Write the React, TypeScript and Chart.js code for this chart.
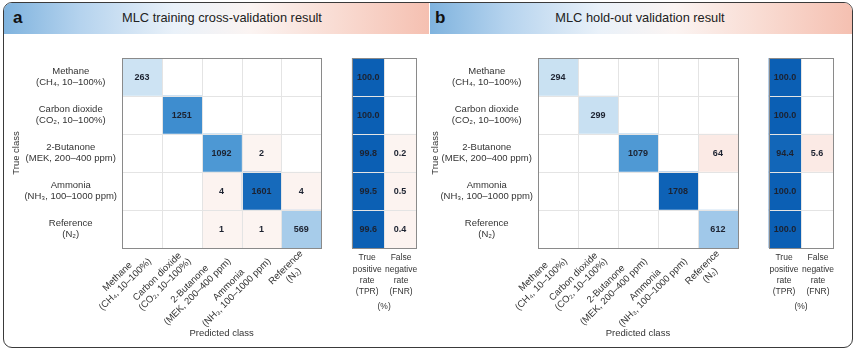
import React, { useEffect, useRef } from 'react';
import { Chart, registerables } from 'chart.js';

Chart.register(...registerables);

const FONT = '"Liberation Sans", Arial, Helvetica, sans-serif';

// ---------- data ----------
const CLASS_LABELS: string[][] = [
  ['Methane', '(CH\u2084, 10\u2013100%)'],
  ['Carbon dioxide', '(CO\u2082, 10\u2013100%)'],
  ['2-Butanone', '(MEK, 200\u2013400 ppm)'],
  ['Ammonia', '(NH\u2083, 100\u20131000 ppm)'],
  ['Reference', '(N\u2082)'],
];

const TRAIN_COUNTS: number[][] = [
  [263, 0, 0, 0, 0],
  [0, 1251, 0, 0, 0],
  [0, 0, 1092, 2, 0],
  [0, 0, 4, 1601, 4],
  [0, 0, 1, 1, 569],
];
const TRAIN_TPR: number[] = [100.0, 100.0, 99.8, 99.5, 99.6];
const TRAIN_FNR: number[] = [0, 0, 0.2, 0.5, 0.4];

const HOLDOUT_COUNTS: number[][] = [
  [294, 0, 0, 0, 0],
  [0, 299, 0, 0, 0],
  [0, 0, 1079, 0, 64],
  [0, 0, 0, 1708, 0],
  [0, 0, 0, 0, 612],
];
const HOLDOUT_TPR: number[] = [100.0, 100.0, 94.4, 100.0, 100.0];
const HOLDOUT_FNR: number[] = [0, 0, 5.6, 0, 0];

const RATE_LABELS: string[][] = [
  ['True', 'positive', 'rate', '(TPR)'],
  ['False', 'negative', 'rate', '(FNR)'],
];
const RATE_UNIT = '(%)';
const PANEL_LETTERS = ['a', 'b'];
const PANEL_TITLES = ['MLC training cross-validation result', 'MLC hold-out validation result'];
const Y_TITLE = 'True class';
const X_TITLE = 'Predicted class';

// ---------- layout / style ----------
const PANELS = [
  { left: 4, width: 424, yAxisWidth: 118, padRight: 12, titlePad: 7, titleCenter: 222, letterLeft: 9 },
  { left: 430, width: 422, yAxisWidth: 108, padRight: 19, titlePad: 0, titleCenter: 640, letterLeft: 5 },
];
const CANVAS_TOP = 35;
const CANVAS_HEIGHT = 310;
const PAD_TOP = 23;
const PAD_BOTTOM = 97;
const GAP_UNITS = 0.78;
const RATE_UNITS = 0.8;
const TEXT_COLOR = '#333333';

const BLUE_STOPS: [number, string][] = [
  [0.0, '#eef5fb'],
  [0.15, '#cde3f3'],
  [0.33, '#a6cbea'],
  [0.62, '#4e98d4'],
  [0.72, '#3d8ccf'],
  [0.92, '#1569ba'],
  [1.0, '#0b5fb4'],
];
const PINK_STOPS: [number, string][] = [
  [0.0, '#fcf4f1'],
  [1.0, '#f9dcd2'],
];

function hexToRgb(h: string) {
  const n = parseInt(h.slice(1), 16);
  return [(n >> 16) & 255, (n >> 8) & 255, n & 255];
}
function interp(stops: [number, string][], t: number) {
  t = Math.max(0, Math.min(1, t));
  for (let i = 1; i < stops.length; i++) {
    if (t <= stops[i][0]) {
      const [t0, c0] = stops[i - 1];
      const [t1, c1] = stops[i];
      const f = (t - t0) / (t1 - t0 || 1);
      const a = hexToRgb(c0), b = hexToRgb(c1);
      const m = a.map((v, k) => Math.round(v + (b[k] - v) * f));
      return `rgb(${m[0]},${m[1]},${m[2]})`;
    }
  }
  return stops[stops.length - 1][1];
}
function countColor(v: number, diag: boolean) {
  if (!v) return '#ffffff';
  return diag ? interp(BLUE_STOPS, v / 1750) : interp(PINK_STOPS, v / 160);
}
function tprColor(v: number) {
  return interp(BLUE_STOPS, v / 100);
}
function fnrColor(v: number) {
  return v ? interp(PINK_STOPS, v / 14) : '#ffffff';
}

function makeDecorPlugin(counts: number[][], tpr: number[], fnr: number[]) {
  const n = counts.length;
  const tprX0 = n + GAP_UNITS;
  const fnrX0 = tprX0 + RATE_UNITS;
  const xMax = fnrX0 + RATE_UNITS;
  return {
    id: 'matrixDecor',
    afterDatasetsDraw(chart: any) {
      const ctx: CanvasRenderingContext2D = chart.ctx;
      const xs = chart.scales.x;
      const ys = chart.scales.y;
      const top = Math.round(ys.getPixelForValue(-0.5));
      const bottom = Math.round(ys.getPixelForValue(n - 0.5));
      const rowY = (r: number) => Math.round(ys.getPixelForValue(r - 0.5)) + 0.5;
      const colX = (u: number) => Math.round(xs.getPixelForValue(u)) + 0.5;

      ctx.save();
      // grid lines
      const block = (u0: number, u1: number, inner: number[]) => {
        const x0 = colX(u0), x1 = colX(u1);
        ctx.strokeStyle = '#e4e4e4';
        ctx.lineWidth = 1;
        ctx.beginPath();
        inner.forEach((u) => {
          const x = colX(u);
          ctx.moveTo(x, top);
          ctx.lineTo(x, bottom);
        });
        for (let r = 1; r < n; r++) {
          const y = rowY(r);
          ctx.moveTo(x0, y);
          ctx.lineTo(x1, y);
        }
        ctx.stroke();
        ctx.strokeStyle = '#8a8a8a';
        ctx.strokeRect(x0, top + 0.5, x1 - x0, bottom - top);
      };
      block(0, n, [1, 2, 3, 4].filter((c) => c < n));
      block(tprX0, xMax, [fnrX0]);

      // cell values
      ctx.font = `bold 9px ${FONT}`;
      ctx.textAlign = 'center';
      ctx.textBaseline = 'middle';
      ctx.fillStyle = '#1c2230';
      chart.data.datasets.forEach((ds: any, di: number) => {
        const meta = chart.getDatasetMeta(di);
        meta.data.forEach((el: any, j: number) => {
          let txt = '';
          if (di < n) {
            const v = counts[j][di];
            txt = v ? String(v) : '';
          } else if (di === n) {
            txt = tpr[j].toFixed(1);
          } else {
            txt = fnr[j] ? fnr[j].toFixed(1) : '';
          }
          if (!txt) return;
          const p = el.getCenterPoint();
          ctx.fillText(txt, p.x, p.y + 0.5);
        });
      });

      // predicted class labels (rotated)
      ctx.font = `9.5px ${FONT}`;
      ctx.fillStyle = TEXT_COLOR;
      const lh = 11;
      CLASS_LABELS.forEach((lines, c) => {
        const ax = xs.getPixelForValue(c + 0.5) + 4;
        const ay = bottom + 8;
        ctx.save();
        ctx.translate(ax, ay);
        ctx.rotate(-Math.PI / 4);
        const maxW = Math.max(...lines.map((l) => ctx.measureText(l).width));
        ctx.textAlign = 'center';
        ctx.textBaseline = 'middle';
        lines.forEach((l, i) => ctx.fillText(l, -maxW / 2, (i - (lines.length - 1) / 2) * lh));
        ctx.restore();
      });

      // rate labels
      ctx.font = `8.5px ${FONT}`;
      ctx.textAlign = 'center';
      ctx.textBaseline = 'middle';
      const rateCenters = [tprX0 + RATE_UNITS / 2, fnrX0 + RATE_UNITS / 2];
      RATE_LABELS.forEach((lines, k) => {
        const cx = xs.getPixelForValue(rateCenters[k]) + (k === 0 ? -1 : 1);
        lines.forEach((l, i) => ctx.fillText(l, cx, bottom + 10 + i * 11.3));
      });
      ctx.fillText(RATE_UNIT, xs.getPixelForValue(fnrX0), bottom + 59);
      ctx.font = `9.5px ${FONT}`;
      ctx.fillText(X_TITLE, xs.getPixelForValue(n / 2), bottom + 85);
      ctx.restore();
    },
  };
}

function buildConfig(idx: number): any {
  const counts = idx === 0 ? TRAIN_COUNTS : HOLDOUT_COUNTS;
  const tpr = idx === 0 ? TRAIN_TPR : HOLDOUT_TPR;
  const fnr = idx === 0 ? TRAIN_FNR : HOLDOUT_FNR;
  const p = PANELS[idx];
  const n = counts.length;
  const tprX0 = n + GAP_UNITS;
  const fnrX0 = tprX0 + RATE_UNITS;
  const xMax = fnrX0 + RATE_UNITS;

  const common = {
    grouped: false,
    barPercentage: 1,
    categoryPercentage: 1,
    borderWidth: 0,
    borderSkipped: false,
  };
  const datasets: any[] = [];
  for (let c = 0; c < n; c++) {
    datasets.push({
      ...common,
      label: CLASS_LABELS[c].join(' '),
      data: counts.map(() => [c, c + 1]),
      backgroundColor: counts.map((row, r) => countColor(row[c], r === c)),
    });
  }
  datasets.push({
    ...common,
    label: 'TPR',
    data: tpr.map(() => [tprX0, fnrX0]),
    backgroundColor: tpr.map((v) => tprColor(v)),
  });
  datasets.push({
    ...common,
    label: 'FNR',
    data: fnr.map(() => [fnrX0, xMax]),
    backgroundColor: fnr.map((v) => fnrColor(v)),
  });

  return {
    type: 'bar',
    data: { labels: CLASS_LABELS, datasets },
    options: {
      indexAxis: 'y',
      animation: false,
      responsive: false,
      events: [],
      layout: { padding: { top: PAD_TOP, bottom: PAD_BOTTOM, left: 0, right: p.padRight } },
      plugins: { legend: { display: false }, tooltip: { enabled: false }, title: { display: false } },
      scales: {
        x: { type: 'linear', min: 0, max: xMax, display: false },
        y: {
          type: 'category',
          offset: true,
          grid: { display: false, drawTicks: false },
          border: { display: false },
          ticks: {
            autoSkip: false,
            crossAlign: 'center',
            padding: 5,
            color: TEXT_COLOR,
            font: { family: FONT, size: 9.5, lineHeight: 1.2 },
          },
          title: {
            display: true,
            text: Y_TITLE,
            color: TEXT_COLOR,
            font: { family: FONT, size: 9.5, lineHeight: 1.2 },
            padding: { top: p.titlePad, bottom: 0 },
          },
          afterFit: (scale: any) => {
            scale.width = p.yAxisWidth;
          },
        },
      },
    },
    plugins: [makeDecorPlugin(counts, tpr, fnr)],
  };
}

function Panel({ idx }: { idx: number }) {
  const ref = useRef<HTMLCanvasElement>(null);
  useEffect(() => {
    if (!ref.current) return;
    const chart = new Chart(ref.current, buildConfig(idx));
    return () => chart.destroy();
  }, [idx]);
  const p = PANELS[idx];
  return (
    <canvas
      ref={ref}
      width={p.width}
      height={CANVAS_HEIGHT}
      style={{ position: 'absolute', left: p.left, top: CANVAS_TOP, width: p.width, height: CANVAS_HEIGHT }}
    />
  );
}

const HEADER_BG =
  'linear-gradient(90deg, #7fb3de 0%, #b5d3ee 18%, #e9f1f9 40%, #fbf4f2 58%, #f9dcd3 78%, #f5c0b1 100%)';

export default function App() {
  return (
    <div
      style={{
        position: 'fixed',
        left: 0,
        top: 0,
        width: 856,
        height: 351,
        background: '#ffffff',
        fontFamily: FONT,
        overflow: 'hidden',
      }}
    >
      <div
        style={{
          position: 'absolute',
          left: 3,
          top: 2,
          width: 850,
          height: 346,
          boxSizing: 'border-box',
          border: '1.5px solid #3a3a3a',
          borderRadius: 9,
          overflow: 'hidden',
        }}
      >
        {[0, 1].map((i) => (
          <div
            key={i}
            style={{
              position: 'absolute',
              left: i === 0 ? 0 : 426,
              top: 0,
              width: i === 0 ? 425 : 422,
              height: 31,
              background: HEADER_BG,
            }}
          />
        ))}
      </div>
      {[0, 1].map((i) => (
        <React.Fragment key={i}>
          <div
            style={{
              position: 'absolute',
              left: PANELS[i].left + PANELS[i].letterLeft,
              top: 8,
              fontSize: 17,
              fontWeight: 'bold',
              color: '#111',
              lineHeight: '20px',
            }}
          >
            {PANEL_LETTERS[i]}
          </div>
          <div
            style={{
              position: 'absolute',
              left: PANELS[i].titleCenter - 160,
              width: 320,
              top: 10,
              textAlign: 'center',
              fontSize: 12.8,
              color: '#222',
              lineHeight: '16px',
            }}
          >
            {PANEL_TITLES[i]}
          </div>
        </React.Fragment>
      ))}
      <Panel idx={0} />
      <Panel idx={1} />
    </div>
  );
}
